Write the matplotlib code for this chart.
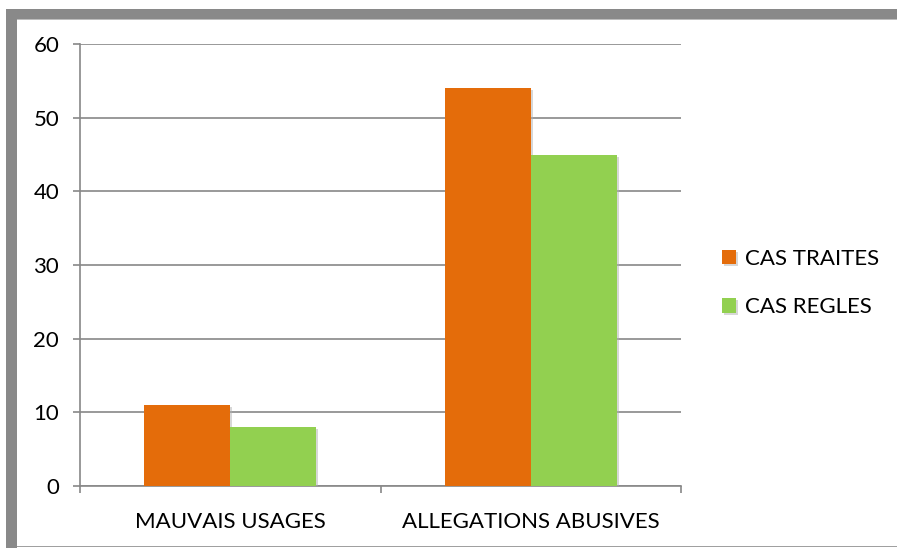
import matplotlib.pyplot as plt
import matplotlib.patches as mpatches
import matplotlib.patheffects as pe
import numpy as np

categories = ['MAUVAIS USAGES', 'ALLEGATIONS ABUSIVES']
series_names = ['CAS TRAITES', 'CAS REGLES']
cas_traites = [11, 54]
cas_regles = [8, 45]
yticks = [0, 10, 20, 30, 40, 50, 60]

orange = '#E46C0A'
green = '#92D050'
grid_grey = '#888888'

plt.rcParams['font.family'] = ['Lato', 'DejaVu Sans']

W, H = 897, 548
fig = plt.figure(figsize=(W / 100, H / 100), dpi=100)

# outer frame (grey bands on top and left, thin line at bottom)
fig.patches.append(mpatches.Rectangle((6 / W, 1 - 19 / H), 1, 10 / H, transform=fig.transFigure,
                                      facecolor='#898989', edgecolor='none'))
fig.patches.append(mpatches.Rectangle((6 / W, 0), 11 / W, 1 - 9 / H, transform=fig.transFigure,
                                      facecolor='#898989', edgecolor='none'))
fig.patches.append(mpatches.Rectangle((17 / W, 1 - 20 / H), 1, 1 / H, transform=fig.transFigure,
                                      facecolor='#bdbdbd', edgecolor='none'))
fig.patches.append(mpatches.Rectangle((17 / W, 1 / H), 1, 1.2 / H, transform=fig.transFigure,
                                      facecolor='#a0a0a0', edgecolor='none'))

ax = fig.add_axes([80 / W, 1 - 486 / H, (681 - 80) / W, (486 - 44) / H])

x = np.arange(len(categories))
w = 0.286
shadow = [pe.SimplePatchShadow(offset=(1.5, -1.5), shadow_rgbFace='#b0b0b0', alpha=0.5), pe.Normal()]
b1 = ax.bar(x - w / 2, cas_traites, w, color=orange, label=series_names[0], zorder=3)
b2 = ax.bar(x + w / 2, cas_regles, w, color=green, label=series_names[1], zorder=3)
for b in list(b1) + list(b2):
    b.set_path_effects(shadow)

ax.set_xlim(-0.5, len(categories) - 0.5)
ax.set_ylim(0, 60)
ax.set_yticks(yticks)
ax.set_yticklabels([str(v) for v in yticks])
ax.yaxis.grid(True, color=grid_grey, linewidth=1.2, zorder=0)
ax.set_axisbelow(True)

# category boundaries as major ticks, labels on minor ticks
ax.set_xticks(np.arange(len(categories) + 1) - 0.5)
ax.set_xticklabels([])
ax.set_xticks(x, minor=True)
ax.set_xticklabels(categories, minor=True)
ax.tick_params(axis='x', which='major', length=5, width=1.2, color=grid_grey, direction='out')
ax.tick_params(axis='x', which='minor', length=0, pad=19, labelsize=16)
ax.tick_params(axis='y', length=5, width=1.2, color=grid_grey, direction='out', pad=10, labelsize=16)

for s in ['top', 'right']:
    ax.spines[s].set_visible(False)
for s in ['left', 'bottom']:
    ax.spines[s].set_color(grid_grey)
    ax.spines[s].set_linewidth(1.2)

ax.legend(loc='center left', bbox_to_anchor=(722 / W, 1 - 283 / H), bbox_transform=fig.transFigure,
          frameon=False, fontsize=16, handlelength=0.63, handleheight=0.63,
          handletextpad=0.4, labelspacing=1.28, borderaxespad=0, borderpad=0)

fig.savefig('out.png', dpi=100)
